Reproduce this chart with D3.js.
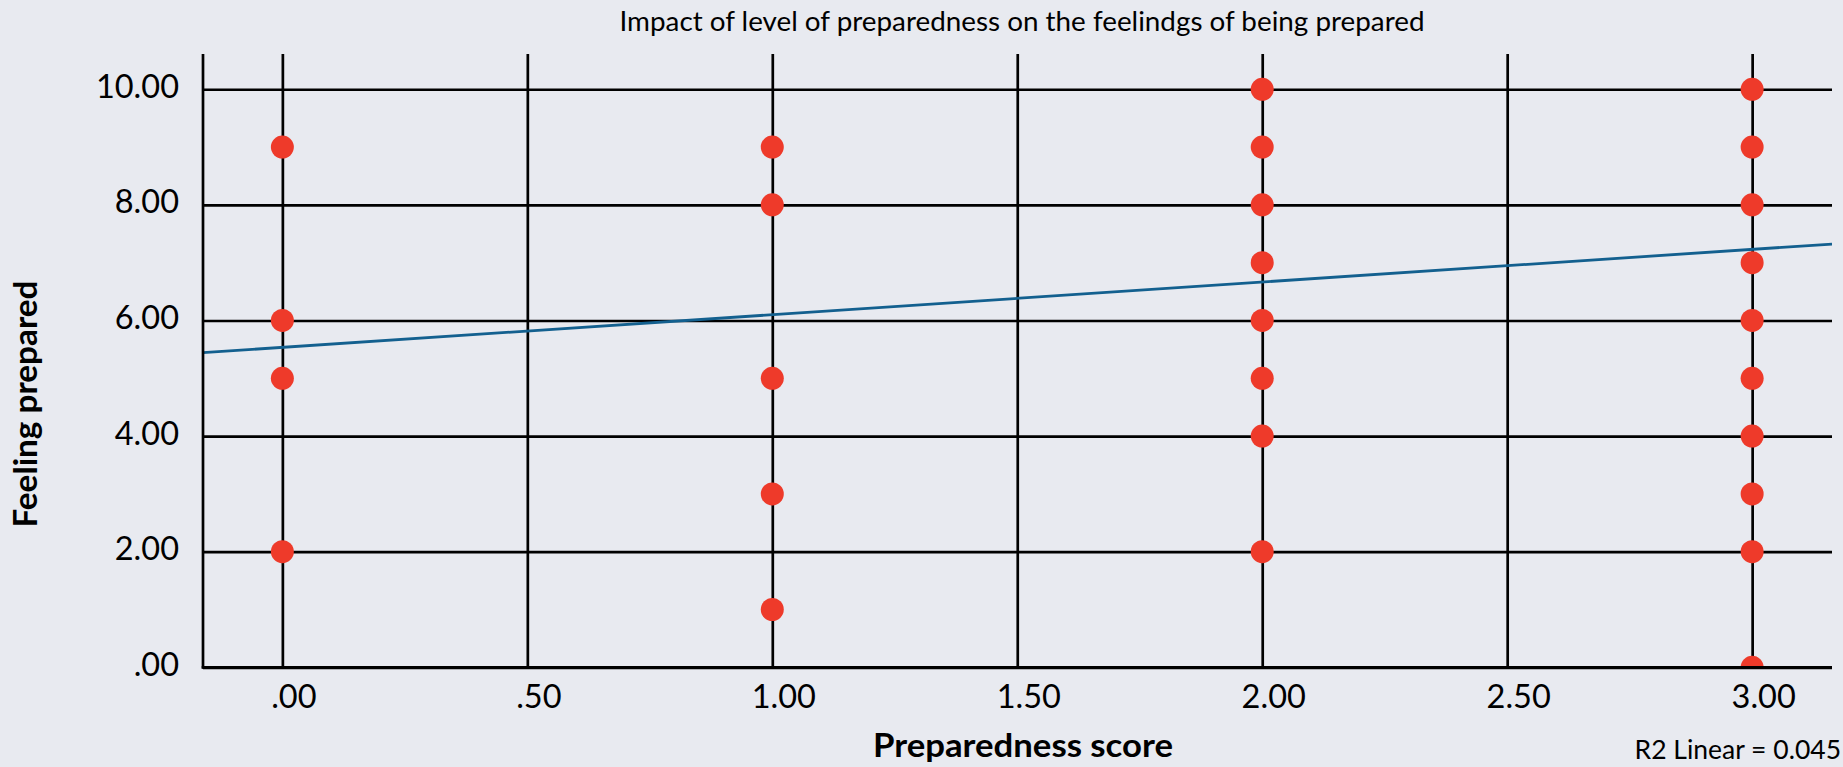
<!DOCTYPE html>
<html>
<head>
<meta charset="utf-8">
<script src="https://cdn.jsdelivr.net/npm/d3@7"></script>
<style>
    html, body { margin: 0; padding: 0; background: #e8eaf0; }
    text { font-family: Lato, "Open Sans", sans-serif; fill: #000; }
</style>
</head>
<body>
<div id="root"></div>
<script>
// data
const scores = [0, 1, 2, 3]
const feelings = [
    [2, 5, 6, 9],
    [1, 3, 5, 8, 9],
    [2, 4, 5, 6, 7, 8, 9, 10],
    [0, 2, 3, 4, 5, 6, 7, 8, 9, 10]
]
const xTicks = [0, 0.5, 1, 1.5, 2, 2.5, 3]
const yTicks = [0, 2, 4, 6, 8, 10]
const fitIntercept = 5.535
const fitSlope = 0.565
const r2 = 0.045

const titleText = "Impact of level of preparedness on the feelindgs of being prepared"
const xTitle = "Preparedness score"
const yTitle = "Feeling prepared"

function drawChart() {
    const w = 1843, h = 767
    const left = 203, right = 1832, top = 54, bottom = 667.3

//scales
    const x = d3.scaleLinear()
        .domain([-0.162, 3.163])
        .range([left, right])

    const y = d3.scaleLinear()
        .domain([0, 10.61])
        .range([bottom, top])

    const fmt = t => d3.format(".2f")(t).replace(/^0\./, ".")

    const points = []
    scores.forEach((s, i) => {
        feelings[i].forEach(v => points.push({score: s, feeling: v}))
    })

    const svg = d3.select("#root").append("svg")
        .attr("width", w)
        .attr("height", h)

    svg.append("rect")
        .attr("width", w)
        .attr("height", h)
        .attr("fill", "#e8eaf0")

    svg.append("clipPath").attr("id", "plotclip")
        .append("rect")
        .attr("x", left)
        .attr("y", top)
        .attr("width", right - left)
        .attr("height", bottom - top)

    // y axis + horizontal grid
    const yAxis = svg.append("g")
        .attr("transform", `translate(${left},0)`)
        .call(d3.axisLeft(y)
            .tickValues(yTicks)
            .tickSize(-(right - left))
            .tickSizeOuter(0)
            .tickPadding(24)
            .tickFormat(fmt))
    yAxis.select(".domain").remove()
    yAxis.selectAll(".tick line")
        .attr("stroke", "#000")
        .attr("stroke-width", 2.7)
    yAxis.selectAll(".tick text")
        .attr("dy", null)
        .attr("y", 8)
        .attr("fill", "#000")
        .style("font-size", "32.5px")
        .style("font-family", "Lato, sans-serif")

    // x axis + vertical grid
    const xAxis = svg.append("g")
        .attr("transform", `translate(0,${bottom})`)
        .call(d3.axisBottom(x)
            .tickValues(xTicks)
            .tickSize(-(bottom - top))
            .tickSizeOuter(0)
            .tickFormat(fmt))
    xAxis.select(".domain").remove()
    xAxis.selectAll(".tick line")
        .attr("stroke", "#000")
        .attr("stroke-width", 2.7)
    xAxis.selectAll(".tick text")
        .attr("dy", null)
        .attr("y", 41)
        .attr("x", 11)
        .attr("fill", "#000")
        .style("font-size", "32.5px")
        .style("font-family", "Lato, sans-serif")

    // dots
    svg.append("g")
        .attr("clip-path", "url(#plotclip)")
        .selectAll("circle.dot")
        .data(points)
        .enter()
        .append("circle")
        .attr("class", "dot")
        .attr("cx", d => x(d.score))
        .attr("cy", d => y(d.feeling))
        .attr("r", 11.5)
        .attr("fill", "#ee3a2a")

    // linear fit
    const [x0, x1] = x.domain()
    svg.append("line")
        .attr("clip-path", "url(#plotclip)")
        .attr("x1", x(x0))
        .attr("y1", y(fitIntercept + fitSlope * x0))
        .attr("x2", x(x1))
        .attr("y2", y(fitIntercept + fitSlope * x1))
        .attr("stroke", "#13608f")
        .attr("stroke-width", 2.8)

    // axis lines
    svg.append("line")
        .attr("x1", left).attr("x2", left)
        .attr("y1", top).attr("y2", bottom + 1.3)
        .attr("stroke", "#000").attr("stroke-width", 2.7)
    svg.append("line")
        .attr("x1", left - 1.3).attr("x2", right)
        .attr("y1", bottom).attr("y2", bottom)
        .attr("stroke", "#000").attr("stroke-width", 2.7)

    // titles
    svg.append("text")
        .attr("x", 1022)
        .attr("y", 31)
        .attr("text-anchor", "middle")
        .attr("textLength", 805)
        .attr("lengthAdjust", "spacingAndGlyphs")
        .style("font-size", "27px")
        .text(titleText)

    svg.append("text")
        .attr("x", 1023)
        .attr("y", 757)
        .attr("text-anchor", "middle")
        .attr("textLength", 300)
        .attr("lengthAdjust", "spacingAndGlyphs")
        .style("font-size", "33px")
        .style("font-weight", "bold")
        .text(xTitle)

    svg.append("text")
        .attr("transform", "translate(37,404) rotate(-90)")
        .attr("text-anchor", "middle")
        .attr("textLength", 247)
        .attr("lengthAdjust", "spacingAndGlyphs")
        .style("font-size", "33px")
        .style("font-weight", "bold")
        .text(yTitle)

    svg.append("text")
        .attr("x", 1841)
        .attr("y", 759)
        .attr("text-anchor", "end")
        .style("font-size", "26.5px")
        .text("R2 Linear = " + d3.format(".3f")(r2))
}

drawChart()
</script>
</body>
</html>
